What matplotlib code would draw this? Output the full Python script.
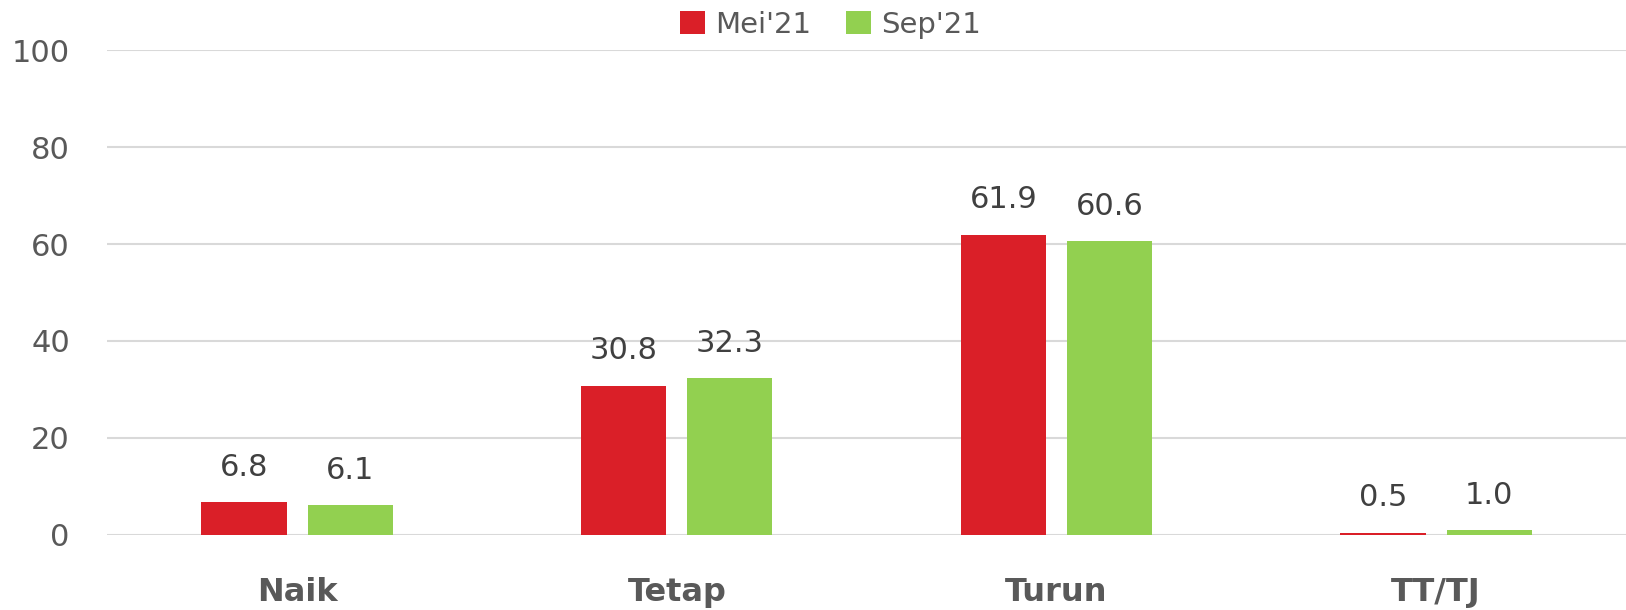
import numpy as np
import matplotlib.pyplot as plt

plt.rcParams['font.family'] = ['DejaVu Sans']

# Data
kategori = ["Naik", "Tetap", "Turun", "TT/TJ"]
mei21 = [6.8, 30.8, 61.9, 0.5]
sep21 = [6.1, 32.3, 60.6, 1.0]
seri = ["Mei'21", "Sep'21"]
warna = ["#DA1F28", "#92D050"]

fig = plt.figure(figsize=(16.26, 6.1), dpi=100)
ax = fig.add_axes([0.066, 0.123, 0.934, 0.795])

x = np.arange(len(kategori))
lebar = 0.224
geser = 0.14

for vals, nama, c, off in zip([mei21, sep21], seri, warna, [-geser, geser]):
    bars = ax.bar(x + off, vals, width=lebar, color=c, label=nama, zorder=3)
    for b, v in zip(bars, vals):
        ax.text(b.get_x() + b.get_width() / 2, v + 4.2, f"{v:.1f}",
                ha="center", va="bottom", fontsize=22, color="#404040")

ax.set_xlim(-0.5, 3.5)
ax.set_ylim(0, 100)
ax.set_yticks(range(0, 101, 20))
ax.grid(axis="y", color="#D9D9D9", linewidth=1.5, zorder=0)
for s in ax.spines.values():
    s.set_visible(False)
ax.tick_params(axis="y", length=0, pad=27, labelsize=22, labelcolor="#595959")
ax.tick_params(axis="x", length=0, pad=30)
ax.set_xticks(x)
ax.set_xticklabels(kategori, fontsize=23, fontweight="semibold", color="#595959")

ax.legend(loc="upper center", bbox_to_anchor=(0.476, 1.135), ncol=2, frameon=False,
          fontsize=21, labelcolor="#595959", handlelength=0.85, handleheight=0.85,
          handletextpad=0.35, columnspacing=1.2)

fig.savefig("out.png", dpi=100)
